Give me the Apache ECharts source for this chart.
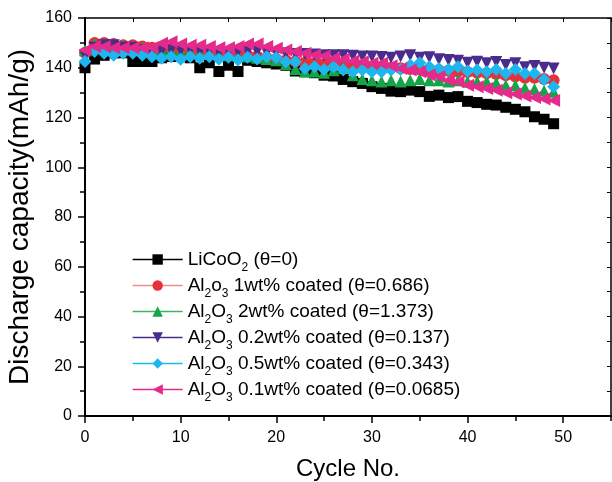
<!DOCTYPE html>
<html><head><meta charset="utf-8">
<script src="https://cdn.jsdelivr.net/npm/echarts@6/dist/echarts.min.js"></script>
<style>html,body{margin:0;padding:0;background:#fff}#c{width:612px;height:482px}</style>
</head><body><div id="c"></div>
<script>
const cycles = Array.from({length: 50}, (_, i) => i);
const licoo2 = [140,143.5,145,146,146,142.5,142.5,142.5,144,144.5,145,144,140,142,138.5,141,138.5,143,142.5,142,141.5,141,138.7,138.4,138,137,136.7,135.3,134.4,133.7,132.4,131.7,130.6,130.4,131,130.4,128.5,129,128,128.4,126.5,126,125.3,125,124.1,123.3,122.3,120.3,119.3,117.5];
const al1wt = [146,150,150,149.5,149,149,148.5,148,147.5,147.5,147,147,146.5,146,145.5,145.5,145,145,144.5,144,143.5,143,142.5,142,141.8,141.5,141.3,141,140.8,140.5,140.5,140,140,139.8,139.5,139.3,139,139,138.8,138.5,138.3,138,137.8,137.5,137,136.5,136,136,135.5,135];
const al2wt = [147,149.5,149.5,149,149,148.5,148,147.5,147,147,146.5,146.5,146,145.5,145.5,145,145,144.5,144,143.5,143,141.5,139.5,138.5,138.5,138,139,140,137,135.5,135,134.5,135,134.5,135,135.5,135,135,134.5,135,134.5,134.5,134.5,134,133,133,132,131.5,130.8,130.4];
const al02wt = [145,148,149,149,148,148,147,146,146.5,147,147,147,146.5,146.5,146,146,146.5,146.5,146.5,146,146,145.8,145.5,145.5,145.3,145,145,145,144.8,144.5,144.5,144.3,144,144.5,145,144,144.2,143.4,143.1,142.8,142,142.4,141.8,142.3,141.1,141.8,140.2,140.7,140,139.7];
const al05wt = [142.5,146.5,145.8,145,145.8,145.8,145,144.4,143.8,144.4,143.4,144.4,143.8,144.4,143.4,144.2,143.1,144.2,143.5,144.4,144,142.4,142.4,139.7,140.4,139.3,140.4,139.1,138.4,139.1,138.4,138.4,139.1,139.3,141.1,142,140.4,139.7,139.3,140.4,138.7,139.1,138.4,139.3,137.7,139.3,137.7,137.7,135.3,132.4];
const al01wt = [147,148.5,148.5,148,148,148,148,148,149.8,150.5,149.5,149,149,148.5,148,148,148.5,149.5,149.5,148.5,147.8,147.1,146.5,145.8,145.1,144.7,143.8,143.4,142.7,142.4,141.8,141.8,140.8,139.7,139.1,138.4,137.1,136.4,135,134.4,133,132.4,131.7,131,130,129.4,128.6,128,127.4,126.8];
const xTicks = [0,10,20,30,40,50];
const yTicks = [0,20,40,60,80,100,120,140,160];

const names = ['LiCoO2 (θ=0)','Al2o3 1wt% coated (θ=0.686)','Al2O3 2wt% coated (θ=1.373)','Al2O3 0.2wt% coated (θ=0.137)','Al2O3 0.5wt% coated (θ=0.343)','Al2O3 0.1wt% coated (θ=0.0685)'];
const richNames = ['{n|LiCoO}{s|2}{n| (θ=0)}','{n|Al}{s|2}{n|o}{s|3}{n| 1wt% coated (θ=0.686)}','{n|Al}{s|2}{n|O}{s|3}{n| 2wt% coated (θ=1.373)}','{n|Al}{s|2}{n|O}{s|3}{n| 0.2wt% coated (θ=0.137)}','{n|Al}{s|2}{n|O}{s|3}{n| 0.5wt% coated (θ=0.343)}','{n|Al}{s|2}{n|O}{s|3}{n| 0.1wt% coated (θ=0.0685)}'];
const values = [licoo2, al1wt, al2wt, al02wt, al05wt, al01wt];
const markColors = ['#000000','#e5323a','#15a447','#4a2c8c','#1db6ee','#e42a8a'];
const lineColors = ['#000000','#f28a8a','#3bb463','#4a2c8c','#1db6ee','#e42a8a'];
const symbols = ['rect','circle','triangle','triangle','diamond','triangle'];
const rotates = [0,0,0,180,0,90];
const sizes = [11,12,12,12,13,13];

const FONT = 'Liberation Sans, Arial, sans-serif';
const chart = echarts.init(document.getElementById('c'), null, {renderer: 'canvas'});
const series = values.map((v, k) => ({
  name: names[k], type: 'line', xAxisIndex: 0, yAxisIndex: 0,
  data: cycles.map((c, i) => [c, v[i]]),
  symbol: symbols[k], symbolRotate: rotates[k], symbolSize: sizes[k],
  itemStyle: {color: markColors[k]},
  lineStyle: {width: 1, color: 'rgba(0,0,0,0)'},
  showAllSymbol: true, animation: false
}));
chart.setOption({
  animation: false,
  backgroundColor: '#fff',
  textStyle: {fontFamily: FONT, color: '#000'},
  grid: {left: 85, right: 1, top: 18, bottom: 66, show: false, containLabel: false, outerBoundsMode: 'none'},
  legend: {
    orient: 'vertical', left: 127, top: 240,
    itemWidth: 50, itemHeight: 13, itemGap: -3,
    data: names.map((n, k) => ({name: n, lineStyle: {color: lineColors[k], width: 1.3, opacity: 1}})),
    formatter: n => richNames[names.indexOf(n)],
    textStyle: {
      fontFamily: FONT, color: '#000',
      rich: {
        n: {fontSize: 19, fontFamily: FONT, color: '#000', lineHeight: 21},
        s: {fontSize: 12, fontFamily: FONT, color: '#000', lineHeight: 8, padding: [17, 0, 0, 0]}
      }
    }
  },
  xAxis: [
    {type: 'value', position: 'bottom', min: 0, max: 55, interval: 10,
     name: 'Cycle No.', nameLocation: 'middle', nameGap: 41,
     nameTextStyle: {fontSize: 24, fontFamily: FONT, color: '#000'},
     axisLine: {show: true, onZero: false, lineStyle: {color: '#000', width: 2}},
     axisTick: {show: true, inside: false, length: 7, lineStyle: {color: '#000', width: 1.5}},
     axisLabel: {fontSize: 16, color: '#000', fontFamily: FONT, margin: 14, showMaxLabel: false,
       formatter: v => xTicks.includes(v) ? String(v) : ''},
     splitLine: {show: false}},
    {type: 'value', position: 'bottom', min: 0, max: 55, interval: 5,
     axisLine: {show: false}, axisLabel: {show: false}, splitLine: {show: false},
     axisTick: {show: true, inside: false, length: 5, lineStyle: {color: '#000', width: 1.5}}},
    {type: 'value', position: 'top', min: 0, max: 55, interval: 5,
     axisLine: {show: true, onZero: false, lineStyle: {color: '#000', width: 1.5}},
     axisLabel: {show: false}, splitLine: {show: false},
     axisTick: {show: true, inside: true, length: 4, lineStyle: {color: '#000', width: 1}}}
  ],
  yAxis: [
    {type: 'value', position: 'left', min: 0, max: 160, interval: 20,
     name: 'Discharge capacity(mAh/g)', nameLocation: 'middle', nameGap: 50,
     nameTextStyle: {fontSize: 28, fontFamily: FONT, color: '#000'},
     axisLine: {show: true, onZero: false, lineStyle: {color: '#000', width: 2}},
     axisTick: {show: true, inside: false, length: 7, lineStyle: {color: '#000', width: 1.5}},
     minorTick: {show: true, splitNumber: 2, length: 5, lineStyle: {color: '#000', width: 1.5}},
     axisLabel: {fontSize: 16, color: '#000', fontFamily: FONT, margin: 13,
       formatter: v => yTicks.includes(v) ? String(v) : ''},
     splitLine: {show: false}},
    {type: 'value', position: 'right', min: 0, max: 160, interval: 10,
     axisLine: {show: true, onZero: false, lineStyle: {color: '#000', width: 1.5}},
     axisLabel: {show: false}, splitLine: {show: false},
     axisTick: {show: true, inside: true, length: 4, lineStyle: {color: '#000', width: 1}}}
  ],
  series: series
});
</script></body></html>
